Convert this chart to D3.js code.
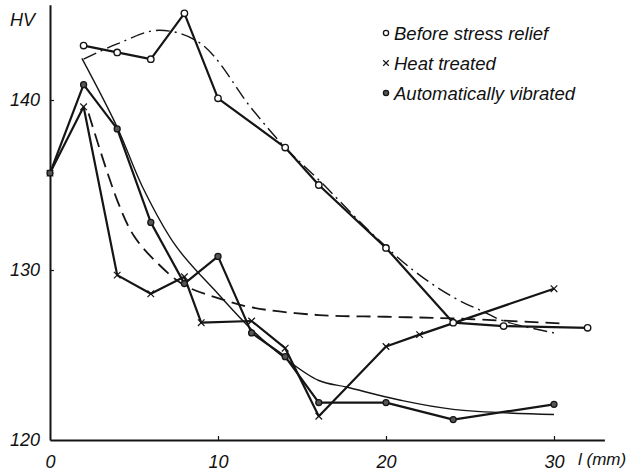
<!DOCTYPE html>
<html>
<head>
<meta charset="utf-8">
<script src="https://d3js.org/d3.v7.min.js"></script>
<style>
  body { margin: 0; background: #fff; }
  svg text { font-family: "Liberation Sans", Arial, sans-serif; font-style: italic; fill: #111; }
</style>
</head>
<body>
<svg id="chart" width="630" height="473"></svg>
<script>
// measured points (l in mm, HV)
var beforeX = [2, 4, 6, 8, 10, 14, 16, 20, 24, 27, 32];
var beforeY = [143.2, 142.8, 142.4, 145.1, 140.1, 137.2, 135.0, 131.3, 126.9, 126.7, 126.6];
var heatX = [0, 2, 4, 6, 8, 9, 12, 14, 16, 20, 22, 30];
var heatY = [135.7, 139.6, 129.7, 128.6, 129.6, 126.9, 127.0, 125.4, 121.4, 125.5, 126.2, 128.9];
var vibX = [0, 2, 4, 6, 8, 10, 12, 14, 16, 20, 24, 30];
var vibY = [135.7, 140.9, 138.3, 132.8, 129.2, 130.8, 126.3, 124.9, 122.2, 122.2, 121.2, 122.1];

// fitted curves
var fitBeforeX = [2, 4, 6.5, 9, 12, 14, 16, 19, 21.6, 24, 25.8, 27, 30];
var fitBeforeY = [142.4, 143.3, 144.1, 143.3, 139.5, 137.2, 135.3, 132.3, 130.0, 128.4, 127.55, 127.0, 126.3];
var fitHeatX = [2.3, 4, 5, 6.4, 8, 10, 12, 16, 20, 24, 30.5];
var fitHeatY = [139.2, 134.1, 132.0, 130.4, 129.1, 128.35, 127.8, 127.35, 127.25, 127.15, 126.85];
var fitVibX = [1.9, 4, 5.5, 7.5, 10, 12, 14, 16, 17.7, 20.8, 24, 30];
var fitVibY = [142.45, 138.4, 134.9, 131.4, 128.6, 126.5, 124.8, 123.5, 123.1, 122.35, 121.8, 121.5];

var xTicks = [0, 10, 20, 30];
var yTicks = [120, 130, 140];
var legendNames = ['Before stress relief', 'Heat treated', 'Automatically vibrated'];

var svg = d3.select('#chart');
var x = d3.scaleLinear().domain([0, 33]).range([50, 604.4]);
var y = d3.scaleLinear().domain([120, 145.6]).range([440, 4.8]);
var ink = '#151515';

function pts(xs, ys) { return xs.map(function(d, i) { return [d, ys[i]]; }); }

// axes
var xAxis = svg.append('g').attr('transform', 'translate(0,440)')
    .call(d3.axisBottom(x).tickValues(xTicks).tickSizeInner(-4).tickSizeOuter(0).tickPadding(12));
var yAxis = svg.append('g').attr('transform', 'translate(50,0)')
    .call(d3.axisLeft(y).tickValues(yTicks).tickSizeInner(-4).tickSizeOuter(0).tickPadding(10));
[xAxis, yAxis].forEach(function(a) {
    a.select('.domain').attr('stroke', ink).attr('stroke-width', 2);
    a.selectAll('.tick line').attr('stroke', ink).attr('stroke-width', 1.2);
    a.selectAll('.tick text').style('font-size', '18px').attr('fill', ink);
});
xAxis.select('.tick line').remove();
yAxis.select('.tick line').remove();
xAxis.selectAll('.tick text').attr('dy', '0.9em');
svg.append('text').attr('x', 10).attr('y', 26).style('font-size', '18px').text('HV');
svg.append('text').attr('x', 578).attr('y', 465).style('font-size', '17px').text('l (mm)');

// fitted curves
var curve = d3.line().x(function(d) { return x(d[0]); }).y(function(d) { return y(d[1]); })
    .curve(d3.curveCatmullRom.alpha(0.5));
svg.append('path').attr('d', curve(pts(fitBeforeX, fitBeforeY)))
    .attr('fill', 'none').attr('stroke', ink).attr('stroke-width', 1.4).attr('stroke-dasharray', '14,5,2,5');
svg.append('path').attr('d', curve(pts(fitHeatX, fitHeatY)))
    .attr('fill', 'none').attr('stroke', ink).attr('stroke-width', 1.8).attr('stroke-dasharray', '14,7');
svg.append('path').attr('d', curve(pts(fitVibX, fitVibY)))
    .attr('fill', 'none').attr('stroke', ink).attr('stroke-width', 1.4);

// measured polylines
var poly = d3.line().x(function(d) { return x(d[0]); }).y(function(d) { return y(d[1]); });
[[beforeX, beforeY], [heatX, heatY], [vibX, vibY]].forEach(function(s) {
    svg.append('path').attr('d', poly(pts(s[0], s[1])))
        .attr('fill', 'none').attr('stroke', ink).attr('stroke-width', 2.2).attr('stroke-linejoin', 'round');
});

// markers
svg.append('g').selectAll('circle').data(pts(beforeX, beforeY)).enter().append('circle')
    .attr('cx', function(d) { return x(d[0]); }).attr('cy', function(d) { return y(d[1]); })
    .attr('r', 3.2).attr('fill', '#fff').attr('stroke', ink).attr('stroke-width', 1.4);
svg.append('g').selectAll('path').data(pts(heatX, heatY)).enter().append('path')
    .attr('d', d3.symbol(d3.symbolX, 30))
    .attr('transform', function(d) { return 'translate(' + x(d[0]) + ',' + y(d[1]) + ')'; })
    .attr('stroke', ink).attr('stroke-width', 1.2);
svg.append('g').selectAll('circle').data(pts(vibX, vibY)).enter().append('circle')
    .attr('cx', function(d) { return x(d[0]); }).attr('cy', function(d) { return y(d[1]); })
    .attr('r', 3).attr('fill', '#555').attr('stroke', ink).attr('stroke-width', 1.3);

// legend
var lg = svg.append('g');
var rows = [33, 63, 93];
lg.append('circle').attr('cx', 386).attr('cy', rows[0]).attr('r', 2.6)
    .attr('fill', '#fff').attr('stroke', ink).attr('stroke-width', 1.3);
lg.append('path').attr('d', d3.symbol(d3.symbolX, 22)).attr('transform', 'translate(386,' + rows[1] + ')')
    .attr('stroke', ink).attr('stroke-width', 1.2);
lg.append('circle').attr('cx', 386).attr('cy', rows[2]).attr('r', 2.6)
    .attr('fill', '#555').attr('stroke', ink).attr('stroke-width', 1.3);
lg.selectAll('text').data(legendNames).enter().append('text')
    .attr('x', 394).attr('y', function(d, i) { return rows[i] + 7; })
    .style('font-size', '18.5px').text(function(d) { return d; });
</script>
</body>
</html>
